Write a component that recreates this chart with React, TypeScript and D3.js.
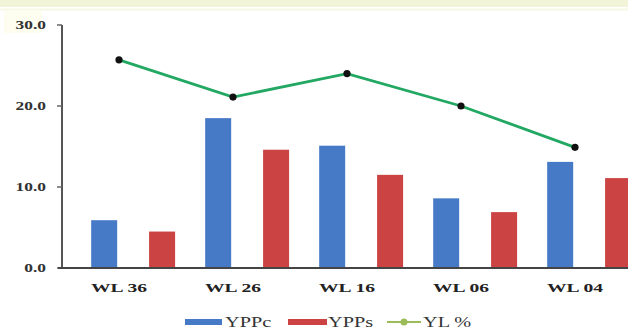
import React from "react";
import * as d3 from "d3";

const categories = ["WL 36", "WL 26", "WL 16", "WL 06", "WL 04"];
const yppc = [5.9, 18.5, 15.1, 8.6, 13.1];
const ypps = [4.5, 14.6, 11.5, 6.9, 11.1];
const ylPct = [25.7, 21.1, 24.0, 20.0, 14.9];
const yTicks = [0, 10, 20, 30];

const W = 628;
const H = 331;
const SX = 1.45; // horizontal stretch of the text glyphs

const BLUE = "#4679c6";
const RED = "#cc4343";
const GREEN = "#22a862";
const LEGEND_GREEN = "#9cbc5a";

export default function App() {
  const x = d3.scaleBand<string>().domain(categories).range([62, 632]).padding(0);
  const y = d3.scaleLinear().domain([0, 30]).range([268, 25]);
  const bw = 26;
  const step = x.bandwidth();
  // bar centres within each category band
  const blueOff = step * 0.37;
  const redOff = step * 0.878;

  const line = d3
    .line<number>()
    .x((_, i) => (x(categories[i]) as number) + step / 2)
    .y((d) => y(d));

  const font = "'Liberation Serif', 'Times New Roman', serif";

  return (
    <svg
      width={W}
      height={H}
      style={{ position: "absolute", left: 0, top: 0, background: "#fff" }}
    >
      {/* header band */}
      <rect x={0} y={0} width={W} height={7} fill="#f2f4d8" />
      <rect x={0} y={8.5} width={W} height={2} fill="#f6f8e4" />
      <rect x={4} y={11} width={38} height={22} fill="#fdfdf0" />

      {/* bars */}
      {categories.map((c, i) => {
        const x0 = x(c) as number;
        return (
          <g key={c}>
            <rect x={x0 + blueOff - bw / 2} y={y(yppc[i])} width={bw} height={y(0) - y(yppc[i])} fill={BLUE} />
            <rect x={x0 + redOff - bw / 2} y={y(ypps[i])} width={bw} height={y(0) - y(ypps[i])} fill={RED} />
          </g>
        );
      })}

      {/* y axis */}
      <line x1={62} x2={62} y1={y(30)} y2={y(0)} stroke="#555" strokeWidth={2} />
      {yTicks.map((t) => (
        <g key={t}>
          <line x1={57} x2={62} y1={y(t)} y2={y(t)} stroke="#666" strokeWidth={1.5} />
          <text
            transform={`translate(46,${y(t) + 4}) scale(${SX},1)`}
            textAnchor="end"
            fontFamily={font}
            fontWeight="bold"
            fontSize={12}
            fill="#333"
          >
            {t.toFixed(1)}
          </text>
        </g>
      ))}

      {/* x axis */}
      <line x1={58} x2={W} y1={y(0)} y2={y(0)} stroke="#444" strokeWidth={2} />
      {categories.map((c) => (
        <text
          key={c}
          transform={`translate(${(x(c) as number) + step / 2},${292}) scale(${SX},1)`}
          textAnchor="middle"
          fontFamily={font}
          fontWeight="bold"
          fontSize={13.5}
          fill="#222"
        >
          {c}
        </text>
      ))}

      {/* YL % line */}
      <path d={line(ylPct) as string} fill="none" stroke={GREEN} strokeWidth={2.8} />
      {ylPct.map((v, i) => (
        <circle key={i} cx={(x(categories[i]) as number) + step / 2} cy={y(v)} r={3.6} fill="#111" />
      ))}

      {/* legend */}
      <rect x={185} y={319} width={37} height={6} fill={BLUE} />
      <text transform={`translate(225,327) scale(${SX},1)`} fontFamily={font} fontSize={14} fill="#333">
        YPPc
      </text>
      <rect x={288} y={319} width={39} height={6} fill={RED} />
      <text transform={`translate(328,327) scale(${SX},1)`} fontFamily={font} fontSize={14} fill="#333">
        YPPs
      </text>
      <line x1={387} x2={421} y1={322} y2={322} stroke={LEGEND_GREEN} strokeWidth={2} />
      <circle cx={404} cy={322} r={3.5} fill={LEGEND_GREEN} />
      <text transform={`translate(423,327) scale(${SX},1)`} fontFamily={font} fontSize={14} fill="#333">
        YL %
      </text>
    </svg>
  );
}
